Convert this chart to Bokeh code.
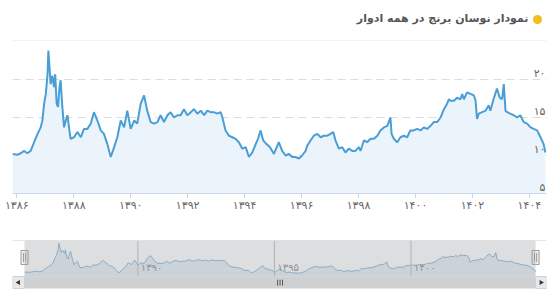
from bokeh.plotting import figure
from bokeh.layouts import column
from bokeh.models import (Range1d, FixedTicker, Grid, Span, BoxAnnotation, ColumnDataSource)
from bokeh.core.properties import value
from bokeh.embed import file_html
from bokeh.resources import INLINE

# ---------------- data (Solar Hijri decimal year, price) ----------------
years = [
    1385.85, 1386.02, 1386.14, 1386.26, 1386.37, 1386.49, 1386.61, 1386.73, 1386.84, 1386.90,
    1386.96, 1387.02, 1387.08, 1387.11, 1387.15, 1387.19, 1387.25, 1387.31, 1387.35, 1387.40,
    1387.45, 1387.50, 1387.54, 1387.60, 1387.66, 1387.72, 1387.78, 1387.84, 1387.89, 1388.01,
    1388.13, 1388.25, 1388.36, 1388.48, 1388.60, 1388.71, 1388.83, 1388.95, 1389.06, 1389.18,
    1389.30, 1389.42, 1389.53, 1389.65, 1389.77, 1389.88, 1390.00, 1390.12, 1390.23, 1390.35,
    1390.47, 1390.58, 1390.70, 1390.82, 1390.94, 1391.05, 1391.17, 1391.29, 1391.40, 1391.52,
    1391.64, 1391.75, 1391.87, 1391.99, 1392.11, 1392.22, 1392.34, 1392.46, 1392.58, 1392.69,
    1392.81, 1392.92, 1393.04, 1393.16, 1393.22, 1393.33, 1393.45, 1393.57, 1393.68, 1393.80,
    1393.92, 1394.04, 1394.15, 1394.27, 1394.39, 1394.47, 1394.56, 1394.65, 1394.77, 1394.89,
    1395.03, 1395.15, 1395.20, 1395.32, 1395.44, 1395.56, 1395.67, 1395.79, 1395.91, 1396.02,
    1396.14, 1396.20, 1396.32, 1396.43, 1396.55, 1396.67, 1396.78, 1396.90, 1397.02, 1397.11,
    1397.19, 1397.31, 1397.43, 1397.54, 1397.66, 1397.78, 1397.89, 1398.01, 1398.07, 1398.19,
    1398.30, 1398.42, 1398.54, 1398.66, 1398.77, 1398.89, 1399.01, 1399.06, 1399.12, 1399.16,
    1399.24, 1399.36, 1399.47, 1399.59, 1399.71, 1399.82, 1399.94, 1400.06, 1400.18, 1400.29,
    1400.41, 1400.53, 1400.64, 1400.76, 1400.88, 1401.00, 1401.11, 1401.17, 1401.23, 1401.35,
    1401.46, 1401.58, 1401.64, 1401.70, 1401.81, 1401.93, 1402.05, 1402.11, 1402.16, 1402.22,
    1402.34, 1402.46, 1402.57, 1402.63, 1402.74, 1402.86, 1402.96, 1403.04, 1403.10, 1403.16,
    1403.22, 1403.33, 1403.45, 1403.57, 1403.68, 1403.80, 1403.92, 1404.04, 1404.15, 1404.27,
    1404.39, 1404.50, 1404.56,
]
prices = [
    10.2, 10.1, 10.3, 10.6, 10.3, 10.6, 11.75, 12.85, 13.7, 14.6,
    16.8, 18.1, 20.7, 23.8, 21.6, 19.4, 20.5, 19.0, 20.7, 16.8,
    16.4, 19.0, 19.9, 16.4, 13.7, 14.6, 15.3, 13.5, 12.2, 12.4,
    13.1, 12.4, 13.5, 13.5, 14.2, 15.7, 14.6, 13.3, 12.85, 11.5,
    9.8, 11.1, 12.4, 14.6, 13.7, 15.9, 13.5, 14.6, 14.2, 16.8,
    17.9, 15.9, 14.4, 14.2, 14.4, 15.3, 14.4, 15.3, 15.7, 15.0,
    15.3, 15.3, 16.1, 15.3, 15.7, 16.1, 15.5, 15.9, 15.3, 15.9,
    15.7, 15.7, 15.5, 15.7, 15.0, 13.3, 12.6, 12.4, 12.2, 11.75,
    10.9, 11.1, 9.8, 10.4, 11.5, 12.2, 13.3, 12.0, 11.5, 11.1,
    10.2, 11.3, 11.75, 10.6, 10.0, 10.2, 9.8, 9.8, 9.6, 10.0,
    10.6, 11.3, 12.0, 12.6, 12.85, 12.4, 12.6, 12.6, 12.85, 13.1,
    12.0, 10.9, 11.1, 10.4, 10.9, 10.6, 10.6, 11.1, 10.6, 12.0,
    11.75, 12.2, 12.2, 12.6, 13.3, 13.7, 13.9, 14.4, 15.0, 12.85,
    12.2, 11.75, 12.4, 12.6, 12.4, 13.3, 13.3, 13.5, 13.3, 13.7,
    13.5, 13.9, 14.4, 14.4, 15.0, 16.1, 16.8, 17.4, 17.2, 17.2,
    17.6, 17.4, 18.1, 17.4, 18.3, 18.1, 17.9, 17.2, 14.8, 15.5,
    15.7, 15.9, 16.6, 15.9, 17.4, 18.8, 17.6, 17.4, 19.4, 15.9,
    15.7, 15.5, 15.3, 15.0, 15.3, 14.4, 14.2, 13.7, 13.5, 13.3,
    12.4, 11.5, 10.4,
]

x_ticks = [1386, 1388, 1390, 1392, 1394, 1396, 1398, 1400, 1402, 1404]
x_tick_labels = ["۱۳۸۶", "۱۳۸۸", "۱۳۹۰", "۱۳۹۲", "۱۳۹۴", "۱۳۹۶", "۱۳۹۸", "۱۴۰۰", "۱۴۰۲", "۱۴۰۴"]
y_ticks = [5, 10, 15, 20]
y_tick_labels = ["۵", "۱۰", "۱۵", "۲۰"]
nav_ticks = [1390, 1395, 1400]
nav_tick_labels = ["۱۳۹۰", "۱۳۹۵", "۱۴۰۰"]
title_text = "نمودار نوسان برنج در همه ادوار"

FONT = "DejaVu Sans"
LINE = "#4a9ed6"
FILL = "#ebf4fb"

x0, x1 = years[0], years[-1]
src = ColumnDataSource(dict(x=years, y=prices))

# ---------------- header (title + bullet) ----------------
hdr = figure(width=556, height=41, output_backend="svg", toolbar_location=None,
             x_range=Range1d(12, 546), y_range=Range1d(41, 0),
             x_axis_location=None, y_axis_location=None,
             min_border_left=12, min_border_right=10, min_border_top=0, min_border_bottom=0)
hdr.outline_line_color = None
hdr.xgrid.visible = False
hdr.ygrid.visible = False
hdr.text(x=[528], y=[18], text=[title_text], text_align="right", text_baseline="middle",
         text_font=value(FONT), text_font_size="11px", text_font_style="bold",
         text_color="#555555")
hdr.scatter(x=[537], y=[19], size=9, marker="circle", fill_color="#f2be1c", line_color=None)
hdr.segment(x0=[12], y0=[40.5], x1=[546], y1=[40.5], line_color="#e6e6e6", line_width=1)

# ---------------- main chart ----------------
p = figure(width=556, height=181, output_backend="svg", toolbar_location=None,
           x_range=Range1d(x0, 1404.6), y_range=Range1d(5, 25),
           y_axis_location=None, min_border_left=12, min_border_right=10,
           min_border_top=0, min_border_bottom=29)
p.outline_line_color = None
p.xgrid.visible = False
p.ygrid.visible = False

g = Grid(dimension=1, ticker=FixedTicker(ticks=[10, 15, 20]),
         grid_line_color="#dcdcdc", grid_line_dash="8 5", grid_line_width=1)
p.add_layout(g)

p.varea(x="x", y1=5, y2="y", source=src, fill_color=FILL)
p.line(x="x", y="y", source=src, line_color=LINE, line_width=2)

xa = p.xaxis[0]
xa.ticker = FixedTicker(ticks=x_ticks)
xa.major_label_overrides = {t: l for t, l in zip(x_ticks, x_tick_labels)}
xa.minor_tick_line_color = None
xa.major_tick_in = 0
xa.major_tick_out = 5
xa.major_tick_line_color = "#ccd6eb"
xa.axis_line_color = "#ccd6eb"
xa.major_label_standoff = 0
xa.major_label_text_font = FONT
xa.major_label_text_font_size = "11px"
xa.major_label_text_color = "#666666"

ylab = ColumnDataSource(dict(x=[1404.6] * len(y_ticks), y=y_ticks, t=y_tick_labels))
p.text(x="x", y="y", text="t", source=ylab, text_align="right", text_baseline="bottom",
       text_font=value(FONT), text_font_size="11px", text_color="#666666", x_offset=-1)

# ---------------- navigator ----------------
nav_lo, nav_hi = 8.1, 25.1
nav = figure(width=556, height=80, output_backend="svg", toolbar_location=None,
             x_range=Range1d(1385.41, 1404.96), y_range=Range1d(1.96, 25.1),
             x_axis_location=None, y_axis_location=None,
             min_border_left=12, min_border_right=10, min_border_top=18, min_border_bottom=13)
nav.outline_line_color = None
nav.xgrid.visible = False
nav.ygrid.visible = False

nsrc = ColumnDataSource(dict(x=years, y=prices))
nav.varea(x="x", y1=nav_lo, y2="y", source=nsrc, fill_color="#e4eef6")
nav.line(x="x", y="y", source=nsrc, line_color="#7fb0d6", line_width=1)

nav.add_layout(BoxAnnotation(left=x0, right=x1, bottom=nav_lo, top=nav_hi,
                             fill_color="#9fa3a6", fill_alpha=0.36, line_color=None))
nav.add_layout(Span(location=nav_hi, dimension="width", line_color="#cccccc", line_width=1))

nav.segment(x0=nav_ticks, y0=[nav_lo] * 3, x1=nav_ticks, y1=[nav_hi] * 3,
            line_color="#b9bbbd", line_width=1)
nlab = ColumnDataSource(dict(x=nav_ticks, y=[nav_lo] * 3, t=nav_tick_labels))
nav.text(x="x", y="y", text="t", source=nlab, text_align="left", text_baseline="bottom",
         text_font=value(FONT), text_font_size="10px", text_color="#888888",
         x_offset=3, y_offset=-3)

# scrollbar
nav.quad(left=[x0], right=[x1], bottom=[2.4], top=[nav_lo], fill_color="#cfd0d1", line_color=None)
nav.quad(left=[1385.41, x1], right=[x0, 1404.96], bottom=[2.4, 2.4], top=[nav_lo, nav_lo],
         fill_color="#e8e8e8", line_color="#d0d0d0")
mid_x = (x0 + x1) / 2
nav.segment(x0=[mid_x - 0.09, mid_x, mid_x + 0.09], y0=[3.8] * 3,
            x1=[mid_x - 0.09, mid_x, mid_x + 0.09], y1=[6.6] * 3,
            line_color="#555555", line_width=1)
nav.scatter(x=[(1385.41 + x0) / 2], y=[5.25], marker="triangle", angle=1.5708, size=5,
            fill_color="#333333", line_color=None)
nav.scatter(x=[(x1 + 1404.96) / 2], y=[5.25], marker="triangle", angle=-1.5708, size=5,
            fill_color="#333333", line_color=None)

# handles
hy = 17.1
nav.rect(x=[x0, x1], y=[hy, hy], width=7, height=14, width_units="screen", height_units="screen",
         fill_color="#f2f2f2", line_color="#999999")
for xx in (x0, x1):
    nav.segment(x0=[xx - 0.04, xx + 0.04], y0=[hy - 2.2] * 2, x1=[xx - 0.04, xx + 0.04],
                y1=[hy + 2.2] * 2, line_color="#999999", line_width=1)

layout = column(hdr, p, nav)
open("out.html", "w").write(file_html(layout, INLINE))
